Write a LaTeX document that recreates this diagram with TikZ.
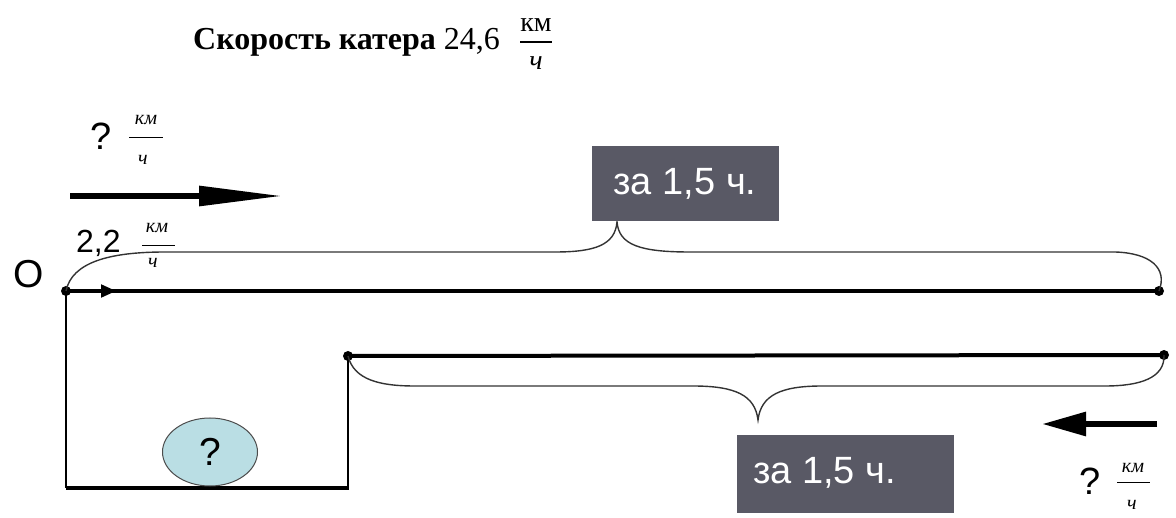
\documentclass[tikz,border=0pt]{standalone}
\usepackage{fontspec}
\setmainfont{Liberation Serif}
\setsansfont{Liberation Sans}
\usetikzlibrary{arrows.meta,shapes.geometric}
\definecolor{boxgray}{RGB}{89,89,101}
\definecolor{ellblue}{RGB}{186,222,228}
\begin{document}
\begin{tikzpicture}[x=1pt,y=-1pt,
  dot/.style={circle,fill=black,inner sep=0pt,minimum size=10pt},
  bracepath/.style={draw=black!80,line width=1.4pt},
  thickline/.style={line width=4pt},
  thinline/.style={line width=1.4pt},
  boxnode/.style={fill=boxgray,inner sep=0pt},
  boxtext/.style={text=white,inner sep=0pt,font=\sffamily\fontsize{38}{42}\selectfont},
  bigsans/.style={inner sep=0pt,font=\sffamily\fontsize{38}{42}\selectfont},
  smallfrac/.style={inner sep=0pt,font=\fontsize{20}{22}\selectfont\itshape},
  bararrow/.style={line width=6pt}
]
\useasboundingbox (0,0) rectangle (1176,518);

% title
\node[anchor=base west,inner sep=0pt,font=\fontsize{32}{36}\selectfont] (title) at (193,50) {\textbf{Скорость катера} 24,6};
\node[anchor=base,inner sep=0pt,font=\fontsize{28}{30}\selectfont] (tnum) at (536,32) {км};
\node[anchor=base,inner sep=0pt,font=\fontsize{28}{30}\selectfont\itshape] (tden) at (536,70) {ч};
\draw[line width=1.2pt] (tnum.south west |- 0,42) -- (tnum.south east |- 0,42);

% top speed label and arrow
\node[bigsans,anchor=base west] (q1) at (90,150) {?};
\node[smallfrac,anchor=base] (f1n) at (146,125) {км};
\node[smallfrac,anchor=base] (f1d) at (143,165) {ч};
\draw[line width=1pt] (129,138) -- (163,138);
\coordinate (a1s) at (70,196);
\coordinate (a1e) at (283,196);
\draw[bararrow,-{Triangle[length=84pt,width=19pt]}] (a1s) -- (a1e);

% 2,2 label
\node[bigsans,anchor=base west,font=\sffamily\fontsize{32}{36}\selectfont] (v22) at (76,253) {2,2};
\node[smallfrac,anchor=base] (f2n) at (157,233) {км};
\node[smallfrac,anchor=base] (f2d) at (153,268) {ч};
\draw[line width=1pt] (142,246) -- (175,246);

% O
\node[bigsans,anchor=base west,font=\sffamily\fontsize{39}{42}\selectfont] (O) at (13,288) {O};

% main lines
\node[dot] (p1) at (66,291) {};
\node[dot] (p2) at (1159,291) {};
\draw[thickline] (p1.center) -- (p2.center);
\coordinate (sa) at (116,291);
\draw[line width=2pt,-{Triangle[length=15pt,width=13pt]}] (p1.center) -- (sa);

\node[dot] (p3) at (348,356) {};
\node[dot] (p4) at (1164,355) {};
\draw[thickline] (p3.center) -- (p4.center);

% frame below
\coordinate (bl) at (66,488);
\coordinate (br) at (349,488);
\draw[thinline] (p1.center) -- (p1.center |- bl);
\draw[thinline] (p3.center) -- (p3.center |- br);
\draw[line width=3.5pt] (bl) -- (br);

% ellipse
\node[ellipse,draw=black!70,line width=1pt,fill=ellblue,minimum width=95pt,minimum height=68pt,inner sep=0pt,font=\sffamily\fontsize{39}{42}\selectfont] (qe) at (210,452) {?};

% top brace
\coordinate (tip1) at (617,222);
\draw[bracepath] (p1.center) .. controls (72,262) and (110,252) .. (165,252) -- (555,252)
  .. controls (595,252) and (615,245) .. (tip1)
  .. controls (619,245) and (640,252) .. (690,252) -- (1115,252)
  .. controls (1150,253) and (1168,268) .. (p2.center);

% bottom brace
\coordinate (tip2) at (758,420);
\draw[bracepath] (p3.center) .. controls (354,380) and (380,386) .. (415,386) -- (693,386)
  .. controls (735,386) and (755,395) .. (tip2)
  .. controls (761,395) and (781,386) .. (822,386) -- (1105,386)
  .. controls (1140,386) and (1165,378) .. (p4.center);

% boxes
\node[boxnode,minimum width=187pt,minimum height=75pt] (b1) at (685.5,183.5) {};
\node[boxtext,anchor=base] (b1t) at (685,195) {за 1,5 ч.};
\node[boxnode,minimum width=217pt,minimum height=78pt] (b2) at (845.5,474) {};
\node[boxtext,anchor=base west] (b2t) at (753,484) {за 1,5 ч.};

% bottom-right arrow and label
\coordinate (a2s) at (1157,424);
\coordinate (a2e) at (1042,424);
\draw[bararrow,-{Triangle[length=44pt,width=23pt]}] (a2s) -- (a2e);
\node[bigsans,anchor=base west] (q2) at (1079,494) {?};
\node[smallfrac,anchor=base] (f3n) at (1133,473) {км};
\node[smallfrac,anchor=base] (f3d) at (1132,510) {ч};
\draw[line width=1pt] (1117,483) -- (1150,483);
\end{tikzpicture}
\end{document}
